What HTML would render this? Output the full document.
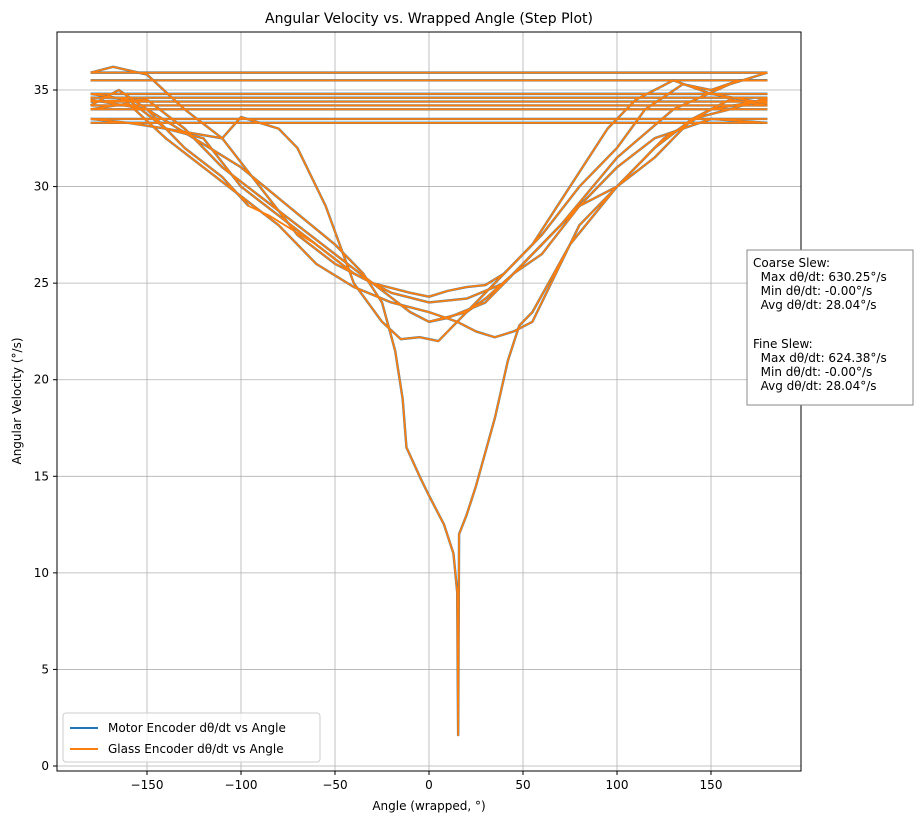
<!DOCTYPE html>
<html><head><meta charset="utf-8"><style>
body{margin:0;background:#fff;font-family:"Liberation Sans","DejaVu Sans",sans-serif;}
svg text{font-family:"DejaVu Sans","Liberation Sans",sans-serif;}
</style></head><body>
<svg id="chart" width="917" height="823" viewBox="0 0 917 823" xmlns="http://www.w3.org/2000/svg">
<rect width="917" height="823" fill="#fff"/>
<text x="429" y="23" font-size="14" text-anchor="middle">Angular Velocity vs. Wrapped Angle (Step Plot)</text>
<g id="grid"></g><g id="series"></g>
<rect x="57" y="32" width="744" height="739" fill="none" stroke="#000" stroke-width="1"/>
<g id="ticks"></g>
<text x="429" y="810" font-size="12" text-anchor="middle">Angle (wrapped, °)</text>
<text transform="translate(21,401) rotate(-90)" font-size="12" text-anchor="middle">Angular Velocity (°/s)</text>
<g>
<rect x="63" y="713" width="257" height="49" fill="#fff" fill-opacity="0.8" stroke="#ccc" rx="3"/>
<line x1="70" y1="728" x2="98" y2="728" stroke="#1f77b4" stroke-width="2"/>
<text x="108" y="732" font-size="12">Motor Encoder dθ/dt vs Angle</text>
<line x1="70" y1="749" x2="98" y2="749" stroke="#ff7f0e" stroke-width="2"/>
<text x="108" y="753" font-size="12">Glass Encoder dθ/dt vs Angle</text>
</g>
<g font-size="12">
<rect x="747" y="250" width="166" height="155" fill="#fff" stroke="#888"/>
<text x="753" y="267">Coarse Slew:</text>
<text x="753" y="281" xml:space="preserve">  Max dθ/dt: 630.25°/s</text>
<text x="753" y="295" xml:space="preserve">  Min dθ/dt: -0.00°/s</text>
<text x="753" y="309" xml:space="preserve">  Avg dθ/dt: 28.04°/s</text>
<text x="753" y="348">Fine Slew:</text>
<text x="753" y="362" xml:space="preserve">  Max dθ/dt: 624.38°/s</text>
<text x="753" y="376" xml:space="preserve">  Min dθ/dt: -0.00°/s</text>
<text x="753" y="390" xml:space="preserve">  Avg dθ/dt: 28.04°/s</text>
</g>
</svg>
<script>
const xTicks=[-150,-100,-50,0,50,100,150];
const yTicks=[0,5,10,15,20,25,30,35];
const wrapLevels=[35.9,35.5,34.8,34.6,34.4,34.2,34.0,33.5,33.3];
const curve1=[[-180,34.2],[-165,35],[-150,34],[-130,32],[-110,30.5],[-96,29]];
const curve2=[[-180,33.5],[-160,33.3],[-140,33],[-120,32.5],[-100,30],[-80,28.5],[-60,27],[-40,25.5],[-20,24.5],[0,24],[20,24.2],[40,25],[60,27],[80,29],[100,31],[120,32.5],[150,33.5],[180,33.3]];
const curve3=[[-180,35.9],[-168,36.2],[-150,35.8],[-130,34],[-110,32.5],[-90,30],[-70,27.5],[-50,26],[-30,25],[-10,23.5],[0,23],[10,23.2],[30,24],[50,26],[70,28],[100,31.5],[130,34],[160,35.3],[180,35.9]];
const curve4=[[-180,34.8],[-160,34.5],[-140,33],[-110,32.5],[-100,33.6],[-80,33],[-70,32],[-55,29],[-40,25],[-25,23],[-15,22.1],[-5,22.2],[5,22],[10,22.5],[20,23.5],[30,24.2],[45,25.5],[60,26.5],[80,29],[100,30],[120,32],[140,33.5],[160,34],[180,34.6]];
const curve5=[[-180,34.0],[-160,34.3],[-140,32.5],[-120,31],[-100,29.5],[-80,28],[-60,26],[-40,24.8],[-20,24],[0,23.5],[15,23],[25,22.5],[35,22.2],[45,22.5],[55,23],[65,25],[80,28],[100,30],[120,31.5],[140,33.5],[160,34.5],[180,34.2]];
const curve6=[[-180,34.5],[-150,34],[-125,32.5],[-100,31],[-75,29],[-50,27],[-35,25.5],[-25,24],[-18,21.5],[-14,19],[-12,16.5],[-5,15],[0,14],[8,12.5],[13,11],[15,9],[15.5,1.6],[16,12],[20,13],[25,14.5],[35,18],[42,21],[48,22.8],[55,23.5],[75,27],[100,30],[125,32.5],[150,34],[180,34.5]];
const curve7=[[-180,34.4],[-150,34.5],[-130,33],[-110,31],[-90,29.5],[-70,28],[-50,26.5],[-30,25],[-10,24.5],[0,24.3],[10,24.6],[20,24.8],[30,24.9],[40,25.5],[60,27.5],[80,30],[100,32],[115,34],[135,35.3],[150,35],[165,35.5],[180,35.5]];
const curve8=[[0,23],[20,23.5],[40,25.5],[55,27],[75,30],[95,33],[110,34.5],[130,35.5],[150,34.8],[180,34.3]];
const curves=[curve1,curve2,curve3,curve4,curve5,curve6,curve7,curve8];
const NS="http://www.w3.org/2000/svg";
const X=v=>429+v*1.88, Y=v=>766-v*19.314;
const grid=document.getElementById('grid'),ticks=document.getElementById('ticks'),ser=document.getElementById('series');
function mk(t,a,p){const e=document.createElementNS(NS,t);for(const k in a)e.setAttribute(k,a[k]);p.appendChild(e);return e;}
xTicks.forEach(v=>{
 const g=mk('line',{x1:X(v),x2:X(v),y1:32,y2:771,stroke:'#b0b0b0','stroke-width':0.8},grid);
 
 
 mk('line',{x1:X(v),x2:X(v),y1:771,y2:775,stroke:'#000'},ticks);
 const t=mk('text',{x:X(v),y:789,'font-size':12,'text-anchor':'middle'},ticks);t.textContent=v<0?'\u2212'+(-v):v;
 
 
});
yTicks.forEach(v=>{
 const g=mk('line',{x1:57,x2:801,y1:Y(v),y2:Y(v),stroke:'#b0b0b0','stroke-width':0.8},grid);
 
 
 mk('line',{x1:53,x2:57,y1:Y(v),y2:Y(v),stroke:'#000'},ticks);
 const t=mk('text',{x:49,y:Y(v)+4,'font-size':12,'text-anchor':'end'},ticks);t.textContent=v;
 
 
});
['#1f77b4','#ff7f0e'].forEach((c,si)=>{
 wrapLevels.forEach(l=>{
  const e=mk('line',{x1:X(-180),x2:X(180),y1:Y(l),y2:Y(l),stroke:si?c:'#1f77b4','stroke-width':si?1.8:2.4},ser);
  
  
 });
 curves.forEach((cv,i)=>{
  let pts=cv;
  if(si===1&&i===0)pts=cv.concat([[-85,28.5],[-60,27],[-40,25.5],[-20,24.5]]);
  const e=mk('polyline',{points:pts.map(p=>X(p[0])+','+Y(p[1])).join(' '),fill:'none',stroke:c,'stroke-width':si?1.8:2.4,'stroke-linejoin':'round'},ser);
  
  
 });
});
</script>
</body></html>
